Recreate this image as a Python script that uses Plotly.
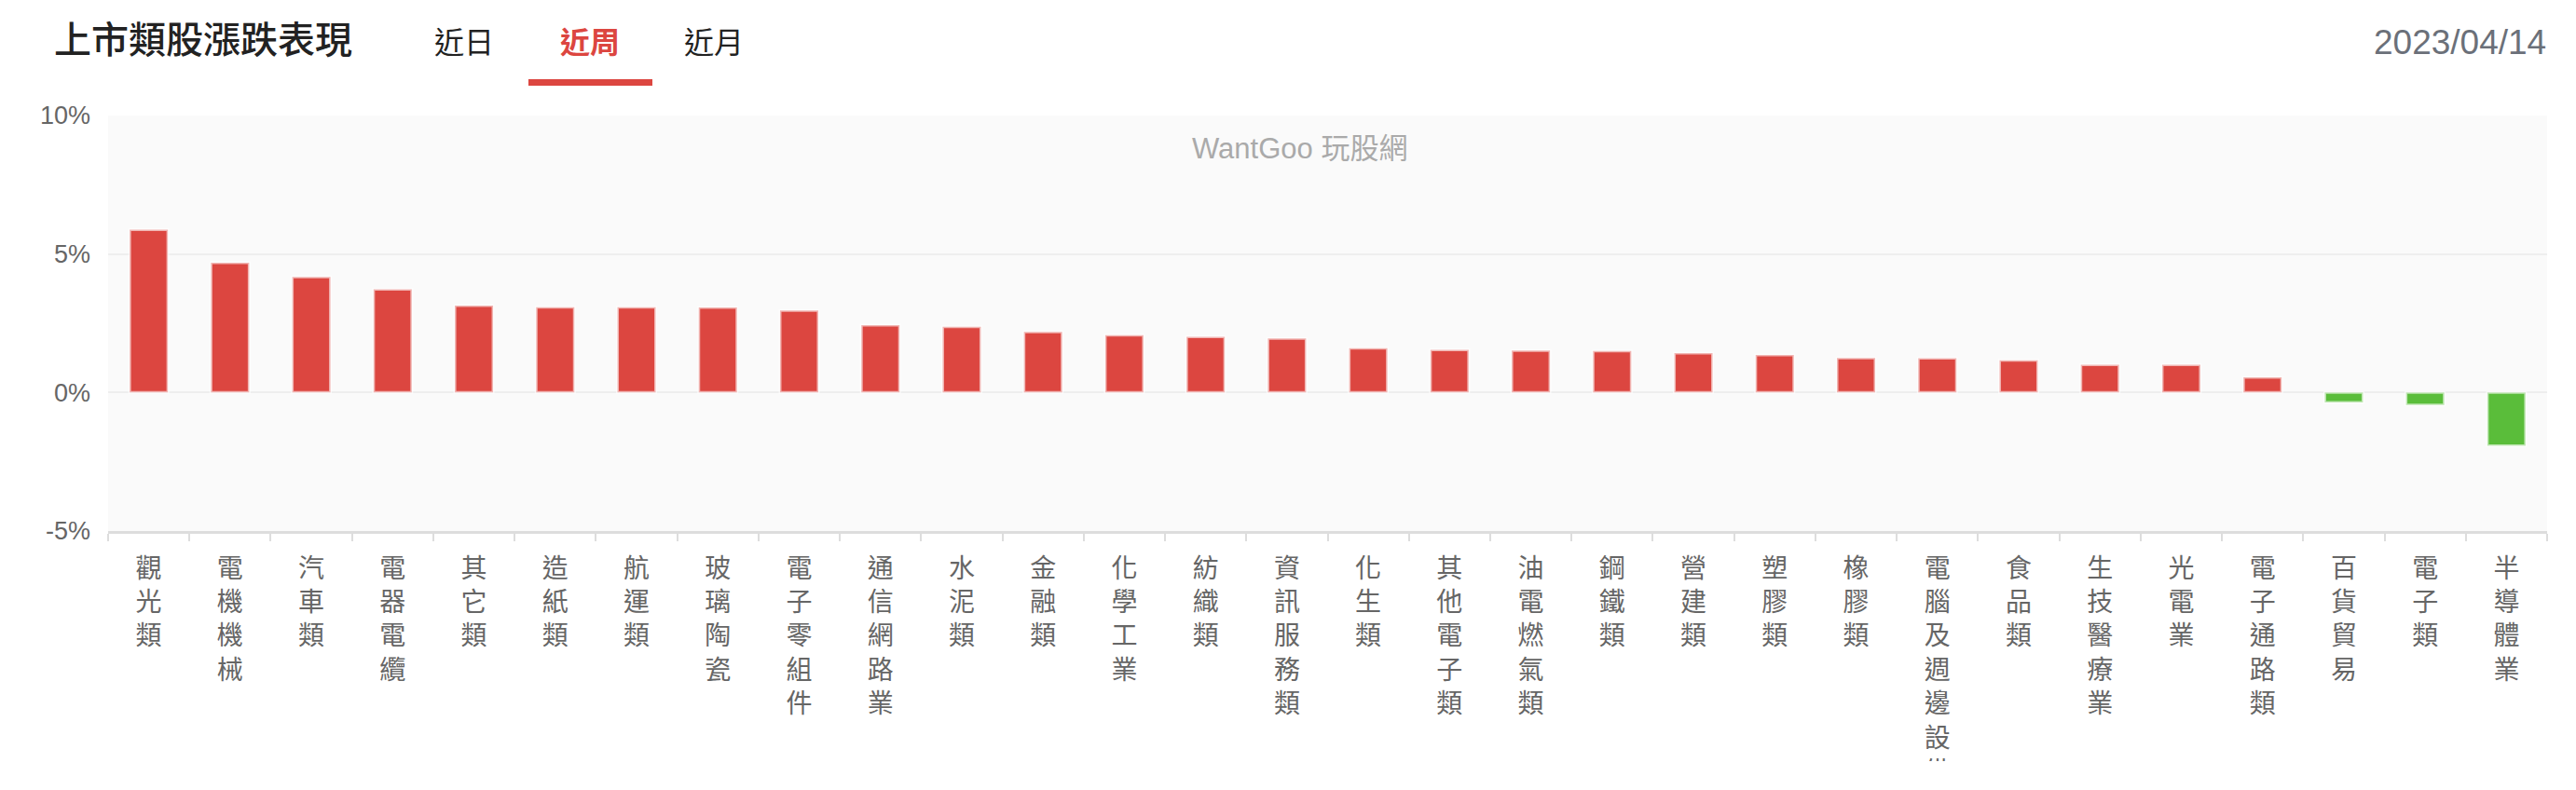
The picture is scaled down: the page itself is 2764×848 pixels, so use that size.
import plotly.graph_objects as go

# ---- data ----
categories = ["觀光類", "電機機械", "汽車類", "電器電纜", "其它類", "造紙類", "航運類", "玻璃陶瓷",
              "電子零組件", "通信網路業", "水泥類", "金融類", "化學工業", "紡織類", "資訊服務類",
              "化生類", "其他電子類", "油電燃氣類", "鋼鐵類", "營建類", "塑膠類", "橡膠類",
              "電腦及週邊設備", "食品類", "生技醫療業", "光電業", "電子通路類", "百貨貿易",
              "電子類", "半導體業"]
values = [5.88, 4.69, 4.17, 3.73, 3.14, 3.08, 3.08, 3.07, 2.96, 2.43, 2.37, 2.19, 2.07, 2.01, 1.95,
          1.60, 1.54, 1.52, 1.50, 1.42, 1.36, 1.25, 1.24, 1.16, 1.00, 1.00, 0.55, -0.36, -0.45, -1.92]
y_ticks = [-5, 0, 5, 10]
y_tick_labels = ["-5%", "0%", "5%", "10%"]
title_text = "上市類股漲跌表現"
tabs = ["近日", "近周", "近月"]
active_tab = "近周"
date_text = "2023/04/14"
watermark = "WantGoo 玩股網"

# ---- layout geometry (page pixels) ----
W, H = 2748, 809
L, R, T, B = 108, 23, 116, 247
PW, PH = W - L - R, H - T - B
OFF = 8


def px(x):
    return (x - OFF - L) / PW


def py(y):
    return 1 - (y - OFF - T) / PH


RED = "#dc4640"
GREEN = "#5abd3a"
FONT = "Liberation Sans, Noto Sans CJK TC, sans-serif"
CJK = "Noto Sans CJK TC, sans-serif"

bar_colors = [RED if v >= 0 else GREEN for v in values]
tick_text = ["<br>".join(list(c)) for c in categories]

fig = go.Figure(go.Bar(
    x=categories, y=values,
    marker=dict(color=bar_colors, line=dict(color="rgba(255,255,255,0.6)", width=3)),
    hoverinfo="x+y",
))

annotations = [
    dict(text=title_text, x=px(56), y=py(40), xanchor="left", yanchor="middle",
         font=dict(family=CJK, size=40, color="#222222", weight=500)),
    dict(text=date_text, x=px(2734), y=py(46), xanchor="right", yanchor="middle",
         font=dict(family=FONT, size=37, color="#6b7079")),
    dict(text=watermark, x=px(1394), y=py(159), xanchor="center", yanchor="middle",
         font=dict(family=FONT, size=31, color="#aaaaaa")),
]
tab_centers = [498, 633, 766]
for t, cx in zip(tabs, tab_centers):
    annotations.append(dict(text=t, x=px(cx), y=py(43), xanchor="center", yanchor="middle",
                            font=dict(family=CJK, size=32,
                                      color=RED if t == active_tab else "#222222",
                                      weight=600 if t == active_tab else 400)))
for a in annotations:
    a.update(xref="paper", yref="paper", showarrow=False)

fig.update_layout(
    width=W, height=H,
    margin=dict(l=L, r=R, t=T, b=B, pad=0, autoexpand=False),
    paper_bgcolor="white", plot_bgcolor="#fafafa",
    bargap=0.53, showlegend=False,
    font=dict(family=FONT, color="#666666"),
    annotations=annotations,
    shapes=[dict(type="rect", xref="paper", yref="paper",
                 x0=px(567), x1=px(700), y0=py(92), y1=py(85),
                 fillcolor=RED, line=dict(width=0))],
)
fig.update_xaxes(
    tickmode="array", tickvals=categories, ticktext=tick_text,
    tickangle=0, tickfont=dict(family=CJK, size=28, color="#666666"),
    ticks="outside", tickson="boundaries", ticklen=8, tickwidth=2, tickcolor="#dddddd",
    showline=True, linecolor="#dddddd", linewidth=3,
    showgrid=False, ticklabelstandoff=13, automargin=False,
)
fig.update_yaxes(
    range=[-5, 10], tickmode="array", tickvals=y_ticks, ticktext=y_tick_labels,
    tickfont=dict(family=FONT, size=27, color="#666666"),
    showgrid=True, gridcolor="#eeeeee", gridwidth=2, zeroline=False,
    showline=False, ticks="", ticklabelstandoff=18, automargin=False,
)

fig.write_html("out.html")
